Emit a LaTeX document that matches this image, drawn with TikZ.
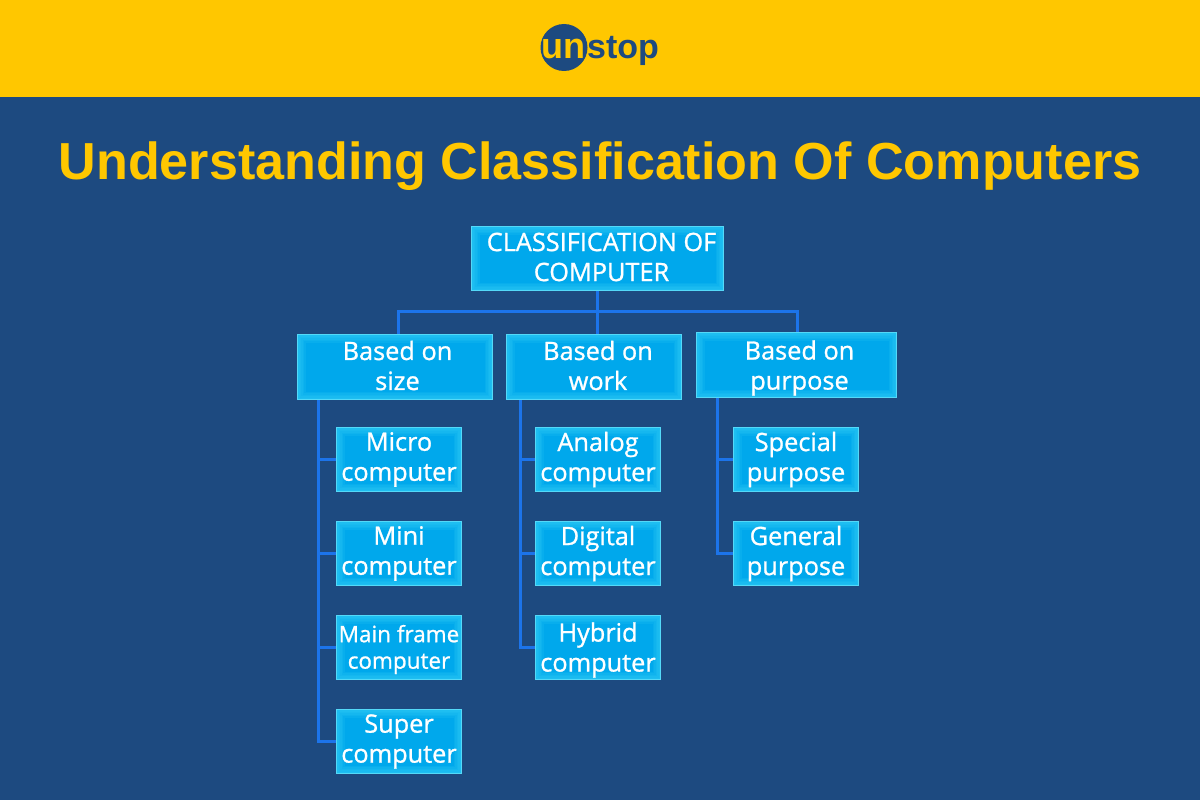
\documentclass[tikz,border=0pt]{standalone}
\usepackage{fontspec}
\setmainfont{Open Sans}[FakeBold=1]
\newfontfamily\titlefont{Liberation Sans}
\definecolor{bgblue}{HTML}{1D4A80}
\definecolor{topyellow}{HTML}{FFC700}
\definecolor{boxfill}{HTML}{00A8EC}
\definecolor{boxedge}{HTML}{36D2F7}
\definecolor{connblue}{HTML}{1C74EA}
\newcommand\lbl[4]{\raisebox{#2pt}[\height][\depth]{\makebox[0pt][l]{\kern#1pt\makebox[0pt]{\parbox[c]{300pt}{\centering #3\\#4}}}}}
\tikzset{
  box/.style={draw=boxedge!85!white,line width=1.2pt,fill=boxfill,text=white,inner sep=0pt,
    font=\fontsize{25.3}{30}\selectfont,
    path picture={
      \foreach \w in {16,13,10,7,4}{
      \draw[boxedge,opacity=.16,line width=\w pt] (path picture bounding box.south west) rectangle (path picture bounding box.north east);}
    }},
  leaf/.style={box,minimum width=125pt,minimum height=64pt},
  conn/.style={draw=connblue,line width=3pt,line cap=butt,line join=miter},
}
\begin{document}
\begin{tikzpicture}[x=1pt,y=-1pt]
\useasboundingbox (0,0) rectangle (1200,800);
\fill[bgblue] (0,0) rectangle (1200,800);
\fill[topyellow] (0,0) rectangle (1200,97);
% logo
\node[circle,fill=bgblue,minimum size=47pt,inner sep=0pt] (logoc) at (564,47.5) {};
\node[inner sep=0pt,text=topyellow,font=\titlefont\bfseries\fontsize{36}{36}\selectfont,anchor=base east] (logoun) at (585.5,58.5) {un};
\node[inner sep=0pt,text=bgblue,font=\titlefont\bfseries\fontsize{34}{34}\selectfont,anchor=base west] (logostop) at (587,58.5) {stop};
% title
\node[inner sep=0pt,text=topyellow,font=\titlefont\bfseries\fontsize{52.1}{52}\selectfont,anchor=base] (title) at (600,179) {Understanding Classification Of Computers};
% connector anchors
\coordinate (bus) at (597.5,311);
\coordinate (sizetop) at (398.5,334);
\coordinate (purposetop) at (797,332);
\coordinate (sizeb) at (318,400);
\coordinate (workb) at (520,400);
\coordinate (purposeb) at (717,398);
% boxes
\node[box,minimum width=252pt,minimum height=64pt] (root) at (597.5,258.5) {\lbl{4}{1.5}{CLASSIFICATION OF}{COMPUTER}};
\node[box,minimum width=195pt,minimum height=65pt] (size) at (395,367) {\lbl{2.5}{1.5}{Based on}{size}};
\node[box,minimum width=175pt,minimum height=65pt] (work) at (594,367) {\lbl{4}{1.5}{Based on}{work}};
\node[box,minimum width=200pt,minimum height=65pt] (purpose) at (796.5,365) {\lbl{3}{-3}{Based on}{purpose}};
\node[leaf] (micro) at (399,459.5) {\lbl{0}{0}{Micro}{computer}};
\node[leaf] (mini) at (399,553.5) {\lbl{0}{0}{Mini}{computer}};
\node[leaf,font=\fontsize{22.5}{26.5}\selectfont] (mainframe) at (399,647.5) {\lbl{0}{-2}{Main frame}{computer}};
\node[leaf] (super) at (399,741.5) {\lbl{0}{0}{Super}{computer}};
\node[leaf] (analog) at (598,459.5) {\lbl{0}{0}{Analog}{computer}};
\node[leaf] (digital) at (598,553.5) {\lbl{0}{0}{Digital}{computer}};
\node[leaf] (hybrid) at (598,647.5) {\lbl{0}{-2.5}{Hybrid}{computer}};
\node[leaf] (special) at (796,459.5) {\lbl{0}{0}{Special}{purpose}};
\node[leaf] (general) at (796,553.5) {\lbl{0}{0}{General}{purpose}};
% connectors
\draw[conn] (root.south) -- (work.north -| root.south);
\draw[conn] (sizetop) |- (bus) -| (purposetop);
\draw[conn] (sizeb) |- (super.west);
\draw[conn] (sizeb |- micro.west) -- (micro.west);
\draw[conn] (sizeb |- mini.west) -- (mini.west);
\draw[conn] (sizeb |- mainframe.west) -- (mainframe.west);
\draw[conn] (workb) |- (hybrid.west);
\draw[conn] (workb |- analog.west) -- (analog.west);
\draw[conn] (workb |- digital.west) -- (digital.west);
\draw[conn] (purposeb) |- (general.west);
\draw[conn] (purposeb |- special.west) -- (special.west);
\end{tikzpicture}
\end{document}
